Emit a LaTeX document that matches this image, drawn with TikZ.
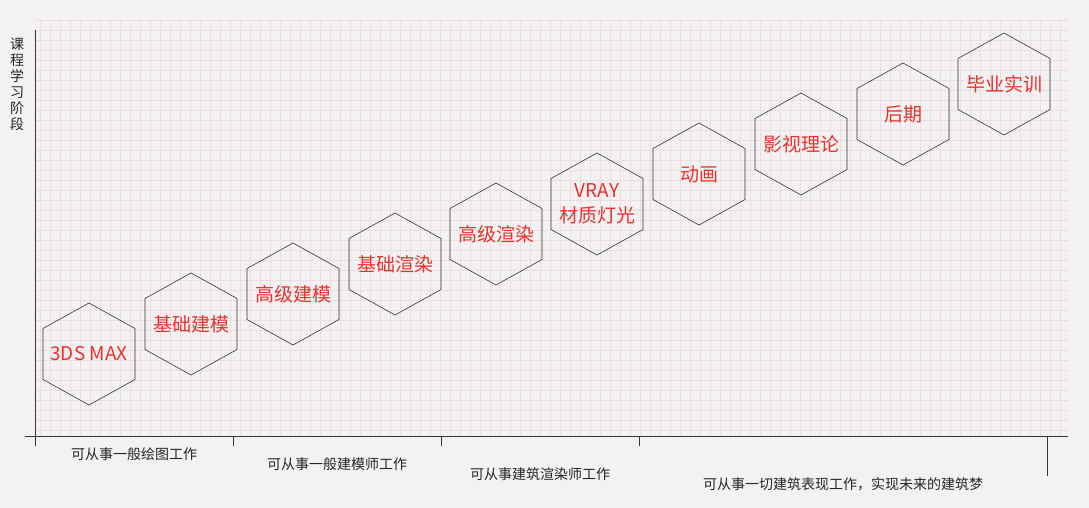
\documentclass[tikz,border=0pt]{standalone}
\usepackage{fontspec}
\setmainfont{Noto Sans CJK SC}
\usetikzlibrary{positioning}
\definecolor{bgcol}{HTML}{F3F1F1}
\definecolor{gridcol}{HTML}{E8E0E0}
\definecolor{redtxt}{HTML}{E8322E}
\tikzset{
  stage/.style={inner sep=0pt, align=center, text=redtxt, font=\fontsize{19}{25}\selectfont},
  hexline/.style={draw=black!80, line width=0.6pt},
  axislbl/.style={font=\fontsize{14}{16}\selectfont, text=black!85}
}
\begin{document}
\begin{tikzpicture}[x=1pt, y=-1pt]
    \fill[bgcol] (0,0) rectangle (1089,508);
    \useasboundingbox (0,0) rectangle (1089,508);
    \draw[gridcol, line width=0.4pt, step=10pt] (35,20) grid (1068,436);

    % axes
    \coordinate (O) at (35,436);
    \draw[black!80] (35,30) -- (O);
    \draw[black!80] (25,436) -- (1068,436);
    \foreach \x in {35,233,441,639,1047}
        \draw[black!80] (\x,436) -- (\x,446);
    \draw[black!80] (1047,436) -- (1047,476);
    \node[axislbl, align=center, text width=14pt] (ytitle) at (17,84) {课\\程\\学\\习\\阶\\段};

    % stages
    \node[stage] (S1) at (89,354) {3DS MAX};
    \node[stage] (S2) at (191,324) {基础建模};
    \node[stage] (S3) at (293,294) {高级建模};
    \node[stage] (S4) at (395,264) {基础渲染};
    \node[stage] (S5) at (496,234) {高级渲染};
    \node[stage] (S6) at (597,204) {VRAY\\材质灯光};
    \node[stage] (S7) at (699,174) {动画};
    \node[stage] (S8) at (801,144) {影视理论};
    \node[stage] (S9) at (903,114) {后期};
    \node[stage] (S10) at (1004,84) {毕业实训};
    \foreach \s in {S1,S2,S3,S4,S5,S6,S7,S8,S9,S10}
        \draw[hexline] (\s.center) ++(0,-51) -- ++(46,25.5) -- ++(0,51) -- ++(-46,25.5)
            -- ++(-46,-25.5) -- ++(0,-51) -- cycle;

    % job labels
    \node[axislbl] (J1) at (134,454) {可从事一般绘图工作};
    \node[axislbl] (J2) at (337,464) {可从事一般建模师工作};
    \node[axislbl] (J3) at (540,474) {可从事建筑渲染师工作};
    \node[axislbl] (J4) at (843,484) {可从事一切建筑表现工作，实现未来的建筑梦};
\end{tikzpicture}
\end{document}
